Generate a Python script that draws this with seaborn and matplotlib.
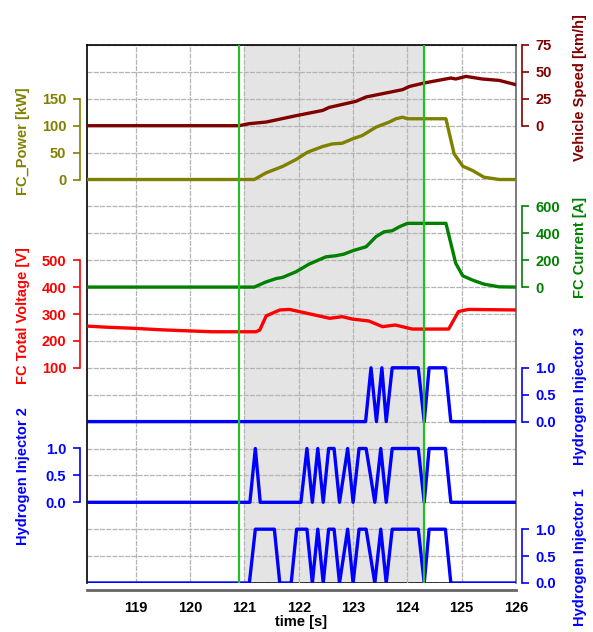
import numpy as np
import pandas as pd
import seaborn as sns
import matplotlib.pyplot as plt

sns.set_style("white")
plt.rcParams['font.family'] = ['Liberation Sans', 'DejaVu Sans']
plt.rcParams['font.weight'] = 'bold'
plt.rcParams['axes.labelweight'] = 'bold'
plt.rcParams['text.color'] = 'black'
plt.rcParams['axes.labelcolor'] = 'black'
plt.rcParams['xtick.color'] = 'black'

# measurement window
t_start, t_end = 118.1, 126.0
cursor_a, cursor_b = 120.9, 124.31
shade_start = 121.0
time_ticks = [119, 120, 121, 122, 123, 124, 125, 126]

# Vehicle Speed [km/h]
speed_t = [118.1, 120.9, 121.09, 121.40, 121.95, 122.44, 122.56, 123.05, 123.24,
           123.91, 124.04, 124.31, 124.80, 124.89, 125.08, 125.38, 125.69, 126.0]
speed_v = [0, 0, 1.9, 3.4, 9.3, 14.2, 17.0, 22.6, 26.7,
           33.5, 36.5, 39.7, 44.3, 43.4, 45.8, 43.4, 42.1, 38.1]

# FC_Power [kW]
power_t = [118.1, 121.18, 121.40, 121.70, 121.95, 122.16, 122.44, 122.62, 122.80,
           122.99, 123.17, 123.42, 123.66, 123.79, 123.91, 124.00, 124.71, 124.86,
           125.02, 125.20, 125.41, 125.69, 126.0]
power_v = [0, 0, 12.5, 24.2, 37.2, 50.7, 61.3, 66.2, 67.4,
           75.5, 81.8, 97.2, 106.5, 112.9, 115.8, 112.9, 112.9, 47.8,
           24.7, 16.7, 4.3, 0, 0]

# FC Current [A]
current_t = [118.1, 121.18, 121.40, 121.59, 121.70, 121.95, 122.19, 122.50, 122.68,
             122.83, 122.99, 123.24, 123.42, 123.57, 123.72, 123.85, 124.00, 124.71,
             124.89, 125.02, 125.20, 125.41, 125.69, 126.0]
current_v = [0, 0, 39, 64, 72, 114, 171, 225, 233,
             245, 270, 300, 374, 411, 419, 448, 474, 474,
             177, 84, 52, 22, 2, 0]

# FC Total Voltage [V]
voltage_t = [118.1, 118.45, 118.94, 119.49, 120.40, 121.21, 121.28, 121.40, 121.65,
             121.83, 122.57, 122.80, 122.99, 123.29, 123.54, 123.78, 124.09, 124.76,
             124.94, 125.12, 126.0]
voltage_v = [255, 251, 247, 241, 234, 234, 240, 293, 315,
             317, 284, 290, 281, 274, 253, 259, 244, 244,
             309, 317, 315]

# Hydrogen injectors (0/1)
inj3_t = [118.1, 123.23, 123.33, 123.43, 123.53, 123.61, 123.72, 124.20, 124.31,
          124.40, 124.70, 124.80, 126.0]
inj3_v = [0, 0, 1, 0, 1, 0, 1, 1, 0, 1, 1, 0, 0]

inj2_t = [118.1, 121.10, 121.20, 121.29, 122.04, 122.15, 122.25, 122.35, 122.45,
          122.55, 122.65, 122.75, 122.90, 123.00, 123.11, 123.24, 123.40, 123.51,
          123.61, 123.72, 124.20, 124.31, 124.40, 124.70, 124.80, 126.0]
inj2_v = [0, 0, 1, 0, 0, 1, 0, 1, 0,
          1, 1, 0, 1, 0, 1, 1, 0, 1,
          0, 1, 1, 0, 1, 1, 0, 0]

inj1_t = [118.1, 121.09, 121.20, 121.55, 121.65, 121.86, 121.96, 122.15, 122.25,
          122.35, 122.45, 122.55, 122.65, 122.75, 122.90, 123.00, 123.11, 123.24,
          123.40, 123.51, 123.61, 123.72, 124.20, 124.31, 124.40, 124.70, 124.80, 126.0]
inj1_v = [0, 0, 1, 1, 0, 0, 1, 1, 0,
          1, 0, 1, 1, 0, 1, 0, 1, 1,
          0, 1, 0, 1, 1, 0, 1, 1, 0, 0]

fig = plt.figure(figsize=(5.93, 6.32), dpi=100)
ax = fig.add_axes([87 / 593, 49 / 632, 429 / 593, 538 / 632])

# base grid: 20 rows, one per second
ax.set_ylim(0, 20)
ax.set_yticks(range(21))
ax.set_yticklabels([])
ax.tick_params(axis='y', length=0)
ax.set_xticks(time_ticks)
ax.set_axisbelow(True)
ax.grid(True, color='#b4b4b4', linewidth=0.9, linestyle=(0, (4, 1)))
ax.axvspan(shade_start, cursor_b, color='#e4e4e4', zorder=0.2, lw=0)
for s in ['top', 'left']:
    ax.spines[s].set_color('black')
    ax.spines[s].set_linewidth(1.2)
ax.spines['right'].set_color('#666666')
ax.spines['right'].set_linewidth(1.2)
ax.spines['bottom'].set_position(('outward', 5))
ax.spines['bottom'].set_color('#666666')
ax.spines['bottom'].set_linewidth(2)
ax.axhline(0, color='black', lw=1.2, zorder=0.5)
ax.tick_params(axis='x', direction='out', length=5, width=1.5, color='#666666',
               labelcolor='black', labelsize=10.5, pad=3)
ax.set_xlabel('time [s]', fontsize=10.5, fontweight='bold', color='black', labelpad=0)


def add_trace(t, v, color, lim, ticks, labels, bounds, name, side, label_y):
    tw = ax.twinx()
    df = pd.DataFrame({'t': t, 'v': v})
    sns.lineplot(data=df, x='t', y='v', ax=tw, color=color, linewidth=2.4,
                 estimator=None, legend=False)
    tw.set_ylim(*lim)
    tw.set_xlabel('')
    for s in ['top', 'bottom', 'left', 'right']:
        tw.spines[s].set_visible(False)
    if side == 'left':
        tw.yaxis.tick_left()
        tw.yaxis.set_label_position('left')
    tw.spines[side].set_visible(True)
    tw.spines[side].set_position(('outward', 5 if side == 'left' else 4))
    tw.spines[side].set_bounds(*bounds)
    tw.spines[side].set_color(color)
    tw.spines[side].set_linewidth(1.2)
    tw.set_yticks(ticks)
    tw.set_yticklabels(labels)
    tw.tick_params(axis='y', colors=color, length=5, width=1.2, labelsize=10.5, pad=5)
    tw.set_ylabel(name, color=color, fontsize=10.5, fontweight='bold', va='center')
    tw.yaxis.set_label_coords(-0.149 if side == 'left' else 1.149, label_y)
    return tw


add_trace(speed_t, speed_v, '#800000', (-425, 75), [0, 25, 50, 75],
          ['0', '25', '50', '75'], (0, 75), 'Vehicle Speed [km/h]', 'right', 0.921)
add_trace(power_t, power_v, '#808000', (-750, 250), [0, 50, 100, 150],
          ['0', '50', '100', '150'], (0, 150), 'FC_Power [kW]', 'left', 0.822)
add_trace(current_t, current_v, '#008000', (-2200, 1800), [0, 200, 400, 600],
          ['0', '200', '400', '600'], (0, 600), 'FC Current [A]', 'right', 0.623)
add_trace(voltage_t, voltage_v, '#ff0000', (-700, 1300), [100, 200, 300, 400, 500],
          ['100', '200', '300', '400', '500'], (100, 500), 'FC Total Voltage [V]',
          'left', 0.498)
inj_ticks = [0, 0.5, 1]
inj_labels = ['0.0', '0.5', '1.0']
add_trace(inj3_t, inj3_v, '#0000ff', (-3, 7), inj_ticks, inj_labels, (0, 1),
          'Hydrogen Injector 3', 'right', 0.348)
add_trace(inj2_t, inj2_v, '#0000ff', (-1.5, 8.5), inj_ticks, inj_labels, (0, 1),
          'Hydrogen Injector 2', 'left', 0.199)
top = add_trace(inj1_t, inj1_v, '#0000ff', (0, 10), inj_ticks, inj_labels, (0, 1),
                'Hydrogen Injector 1', 'right', 0.048)

# cursors on top of everything
for c in [cursor_a, cursor_b]:
    top.axvline(c, color='#22c022', lw=1.6, zorder=5)

ax.set_xlim(t_start, t_end)

fig.savefig('out.png', dpi=100)
